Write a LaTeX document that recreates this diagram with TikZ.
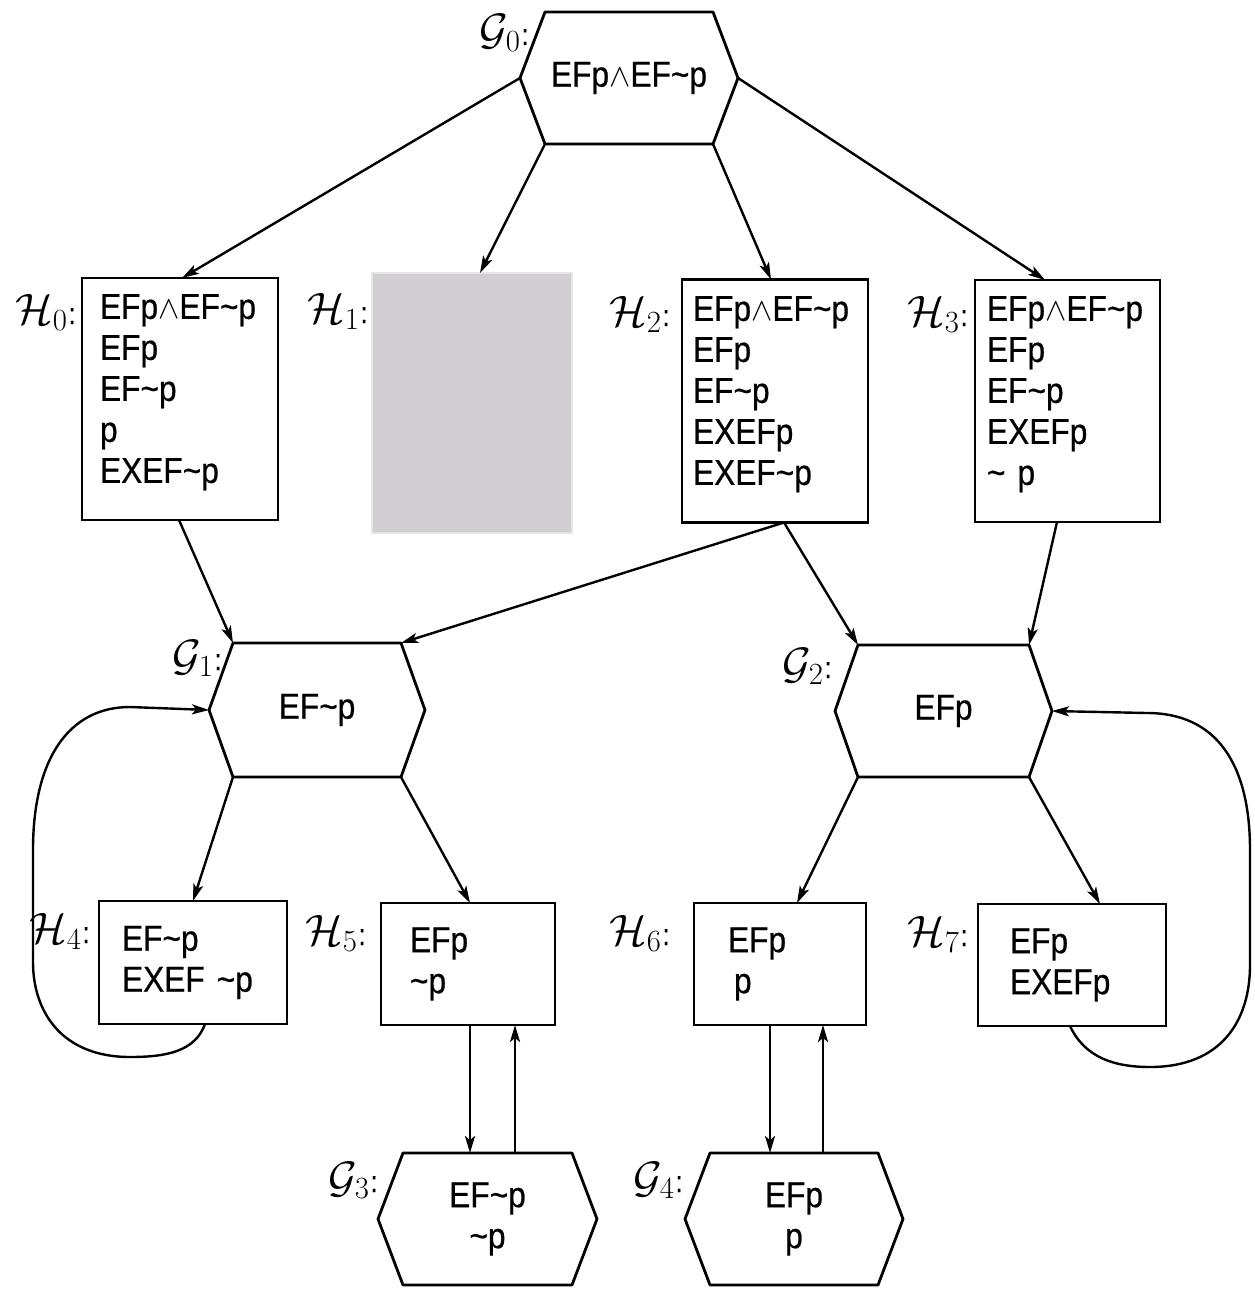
\RequirePackage{fix-cm}
\documentclass[tikz,border=0pt]{standalone}
\usepackage{fontspec}
\setmainfont{Liberation Sans}[FakeStretch=0.88,FakeBold=0.6]
\usetikzlibrary{calc,arrows.meta}

\newcommand\tld{\textasciitilde}
\newcommand\wdg{{\fontsize{32}{32}\selectfont$\wedge$}}
\newcommand\lbl[2]{$\mathcal{#1}_{#2}$\kern1pt{\fontsize{30}{30}\selectfont:}}
\newcommand\lowstrut{\rule[-21pt]{0pt}{1pt}}

\tikzset{
  hexbase/.style={shape=rectangle, draw=none, inner sep=0pt, outer sep=0pt, align=center,
    font=\fontsize{36}{41}\selectfont},
  hexline/.style={line width=2.8pt, line join=round},
  hbox/.style={draw, line width=2.8pt, inner ysep=0pt, outer sep=0pt, align=left,
    font=\fontsize{36}{41}\selectfont},
  graybox/.style={draw=black!10, fill={rgb,255:red,208;green,206;blue,208}, line width=2pt, outer sep=0pt},
  lab/.style={inner sep=0pt, anchor=base east, font=\fontsize{44}{44}\selectfont},
  arr/.style={line width=2.4pt, -{Stealth[length=17pt,width=10pt,inset=4pt]}}
}

\newcommand\hexnode[7]{%
  \node[hexbase, minimum width={2*#4pt}, minimum height={2*#6pt}] (#1) at (#2,#3) {#7};
  \coordinate (#1-tl) at ([xshift=#5pt]#1.north west);
  \coordinate (#1-tr) at ([xshift=-#5pt]#1.north east);
  \coordinate (#1-bl) at ([xshift=#5pt]#1.south west);
  \coordinate (#1-br) at ([xshift=-#5pt]#1.south east);
  \draw[hexline] (#1.west) -- (#1-tl) -- (#1-tr) -- (#1.east) -- (#1-br) -- (#1-bl) -- cycle;
}

\begin{document}
\begin{tikzpicture}[x=1pt,y=-1pt]
\useasboundingbox (0,0) rectangle (1255,1290);

% hexagons
\hexnode{g0}{629}{78}{109}{25}{66}{EFp\wdg EF\tld p}
\hexnode{g1}{317}{710}{108}{24}{67}{EF\tld p}
\hexnode{g2}{943.5}{711}{108.5}{23}{66}{EFp}
\hexnode{g3}{487.5}{1219}{109.5}{25}{66}{EF\tld p\\\tld p}
\hexnode{g4}{794}{1219}{109}{25}{66}{EFp\\p}

% boxes
\node[hbox, minimum width=196pt, minimum height=242pt, text width=160pt, inner xsep=18pt] (h0) at (180,399)
  {EFp\wdg EF\tld p\\EFp\\EF\tld p\\p\\EXEF\tld p\lowstrut};
\node[graybox, minimum width=200pt, minimum height=260pt] (h1) at (472,403) {};
\node[hbox, minimum width=186pt, minimum height=243pt, text width=164pt, inner xsep=11pt] (h2) at (775,401)
  {EFp\wdg EF\tld p\\EFp\\EF\tld p\\EXEFp\\EXEF\tld p\lowstrut};
\node[hbox, minimum width=185pt, minimum height=242pt, text width=161pt, inner xsep=12pt] (h3) at (1067.5,401)
  {EFp\wdg EF\tld p\\EFp\\EF\tld p\\EXEFp\\\tld\ p\lowstrut};
\node[hbox, minimum width=188pt, minimum height=123pt, text width=142pt, inner xsep=23pt] (h4) at (193,962.5)
  {EF\tld p\\EXEF \tld p};
\node[hbox, minimum width=174pt, minimum height=122pt, text width=116pt, inner xsep=29pt] (h5) at (468,964)
  {EFp\\\tld p};
\node[hbox, minimum width=172pt, minimum height=122pt, text width=104pt, inner xsep=34pt] (h6) at (780,964)
  {EFp\\\hspace*{6pt}p};
\node[hbox, minimum width=188pt, minimum height=122pt, text width=124pt, inner xsep=32pt] (h7) at (1072,965)
  {EFp\\EXEFp};

% labels
\node[lab] (lg0) at (529,45) {\lbl{G}{0}};
\node[lab] (lg1) at (222,670) {\lbl{G}{1}};
\node[lab] (lg2) at (832,678) {\lbl{G}{2}};
\node[lab] (lg3) at (378,1192) {\lbl{G}{3}};
\node[lab] (lg4) at (683,1192) {\lbl{G}{4}};
\node[lab] (lh0) at (76,324) {\lbl{H}{0}};
\node[lab] (lh1) at (368,323) {\lbl{H}{1}};
\node[lab] (lh2) at (670,326) {\lbl{H}{2}};
\node[lab] (lh3) at (968,326) {\lbl{H}{3}};
\node[lab] (lh4) at (90,943) {\lbl{H}{4}};
\node[lab] (lh5) at (366,945) {\lbl{H}{5}};
\node[lab] (lh6) at (670,945) {\lbl{H}{6}};
\node[lab] (lh7) at (968,946) {\lbl{H}{7}};

% connectors
\draw[arr] (g0.west) -- ([xshift=100pt]h0.north west);
\draw[arr] (g0-bl) -- ([xshift=108pt]h1.north west);
\draw[arr] (g0-br) -- ([xshift=89pt]h2.north west);
\draw[arr] (g0.east) -- ([xshift=70pt]h3.north west);
\draw[arr] ([xshift=97pt]h0.south west) -- (g1-tl);
\draw[arr] ([xshift=102pt]h2.south west) -- (g1-tr);
\draw[arr] ([xshift=102pt]h2.south west) -- (g2-tl);
\draw[arr] ([xshift=82pt]h3.south west) -- (g2-tr);
\draw[arr] (g1-bl) -- ([xshift=94pt]h4.north west);
\draw[arr] (g1-br) -- ([xshift=89pt]h5.north west);
\draw[arr] (g2-bl) -- ([xshift=103pt]h6.north west);
\draw[arr] (g2-br) -- ([xshift=122pt]h7.north west);

\coordinate (h5d) at ([xshift=89pt]h5.south west);
\coordinate (h5u) at ([xshift=134pt]h5.south west);
\coordinate (h6d) at ([xshift=76pt]h6.south west);
\coordinate (h6u) at ([xshift=129pt]h6.south west);
\draw[arr] (h5d) -- (h5d |- g3.north);
\draw[arr] (h5u |- g3.north) -- (h5u);
\draw[arr] (h6d) -- (h6d |- g4.north);
\draw[arr] (h6u |- g4.north) -- (h6u);

% loops
\coordinate (h4o) at ([xshift=106pt]h4.south west);
\draw[arr] (h4o) .. controls (195,1052) and (165,1057) .. (130,1057)
  .. controls (62,1057) and (33,1012) .. (33,962) -- (33,850)
  .. controls (33,760) and (68,707) .. (130,707) -- (g1.west);
\coordinate (h7o) at ([xshift=92pt]h7.south west);
\draw[arr] (h7o) .. controls (1085,1058) and (1115,1067) .. (1150,1067)
  .. controls (1222,1067) and (1250,1020) .. (1250,965) -- (1250,850)
  .. controls (1250,762) and (1215,713) .. (1147,713) -- (g2.east);
\end{tikzpicture}
\end{document}
